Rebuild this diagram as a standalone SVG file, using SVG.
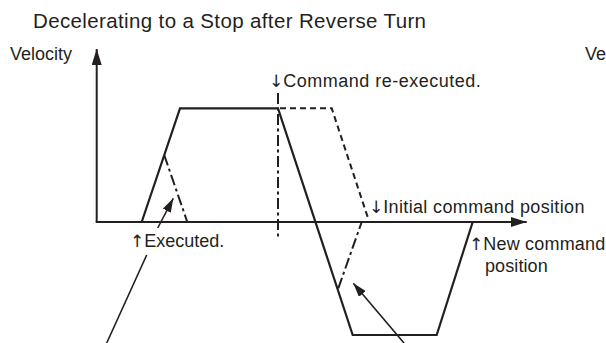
<svg xmlns="http://www.w3.org/2000/svg" width="606" height="343" viewBox="0 0 606 343">
<style>
text{font-family:"Liberation Sans",Arial,sans-serif;fill:#231f20;font-size:18px}
.title{font-size:20.5px}
.arr{font-family:"DejaVu Sans",sans-serif;font-size:17px;fill:#231f20;letter-spacing:0}
.solid{fill:none;stroke:#231f20;stroke-width:2.2;stroke-linejoin:miter}
.dashdot{fill:none;stroke:#231f20;stroke-width:2;stroke-dasharray:11 3.5 3 3.5}
.dashed{fill:none;stroke:#231f20;stroke-width:2;stroke-dasharray:6 4}
.thin{fill:none;stroke:#231f20;stroke-width:1.6}
.axis{fill:none;stroke:#231f20;stroke-width:2}
</style>
<defs>
<marker id="axhead" viewBox="0 0 16 10" refX="16" refY="5" markerWidth="16" markerHeight="10" markerUnits="userSpaceOnUse" orient="auto">
<path d="M0,0 L16,5 L0,10 Z" fill="#231f20"/>
</marker>
<marker id="ahead" viewBox="0 0 14 9" refX="14" refY="4.5" markerWidth="14" markerHeight="9" markerUnits="userSpaceOnUse" orient="auto">
<path d="M0,0 L14,4.5 L0,9 Z" fill="#231f20"/>
</marker>
</defs>
<g id="title"><text class="title" x="33" y="28" textLength="393" lengthAdjust="spacing">Decelerating to a Stop after Reverse Turn</text></g>
<g id="axes">
<text x="10" y="60" textLength="62" lengthAdjust="spacing">Velocity</text>
<line class="axis" x1="96.7" y1="222" x2="96.7" y2="49" marker-end="url(#axhead)"/>
<line class="axis" x1="95.7" y1="222" x2="526.7" y2="222" marker-end="url(#axhead)"/>
</g>
<g id="right-velocity"><text x="585" y="60">Ve</text></g>
<g id="connectors">
<polyline class="solid" points="141.7,222 180,108.3 278,108.3 352.7,335 436.7,335 472.7,222"/>
<line class="dashdot" x1="164.2" y1="155" x2="187.3" y2="222"/>
<line class="dashdot" x1="278" y1="93" x2="278" y2="237"/>
<polyline class="dashed" points="280,108.3 331.7,108.3 368,218"/>
<line class="dashdot" x1="338.3" y1="288.3" x2="361.7" y2="222"/>
<line class="thin" x1="106.7" y1="343" x2="146.7" y2="255"/>
<line class="thin" x1="157.7" y1="228" x2="173.3" y2="198.3" marker-end="url(#ahead)"/>
<line class="thin" x1="404" y1="343" x2="353.3" y2="283.3" marker-end="url(#ahead)"/>
</g>
<g id="label-reexecuted"><text x="269" y="87"><tspan class="arr">↓</tspan><tspan letter-spacing="0.5">Command re-executed.</tspan></text></g>
<g id="label-executed"><text x="130" y="247"><tspan class="arr">↑</tspan><tspan>Executed.</tspan></text></g>
<g id="label-initial"><text x="369" y="212.5"><tspan class="arr">↓</tspan><tspan letter-spacing="0.35">Initial command position</tspan></text></g>
<g id="label-new"><text x="469" y="250"><tspan class="arr">↑</tspan><tspan letter-spacing="0.2">New command</tspan></text><text x="485" y="272" letter-spacing="0.1">position</text></g>
</svg>
